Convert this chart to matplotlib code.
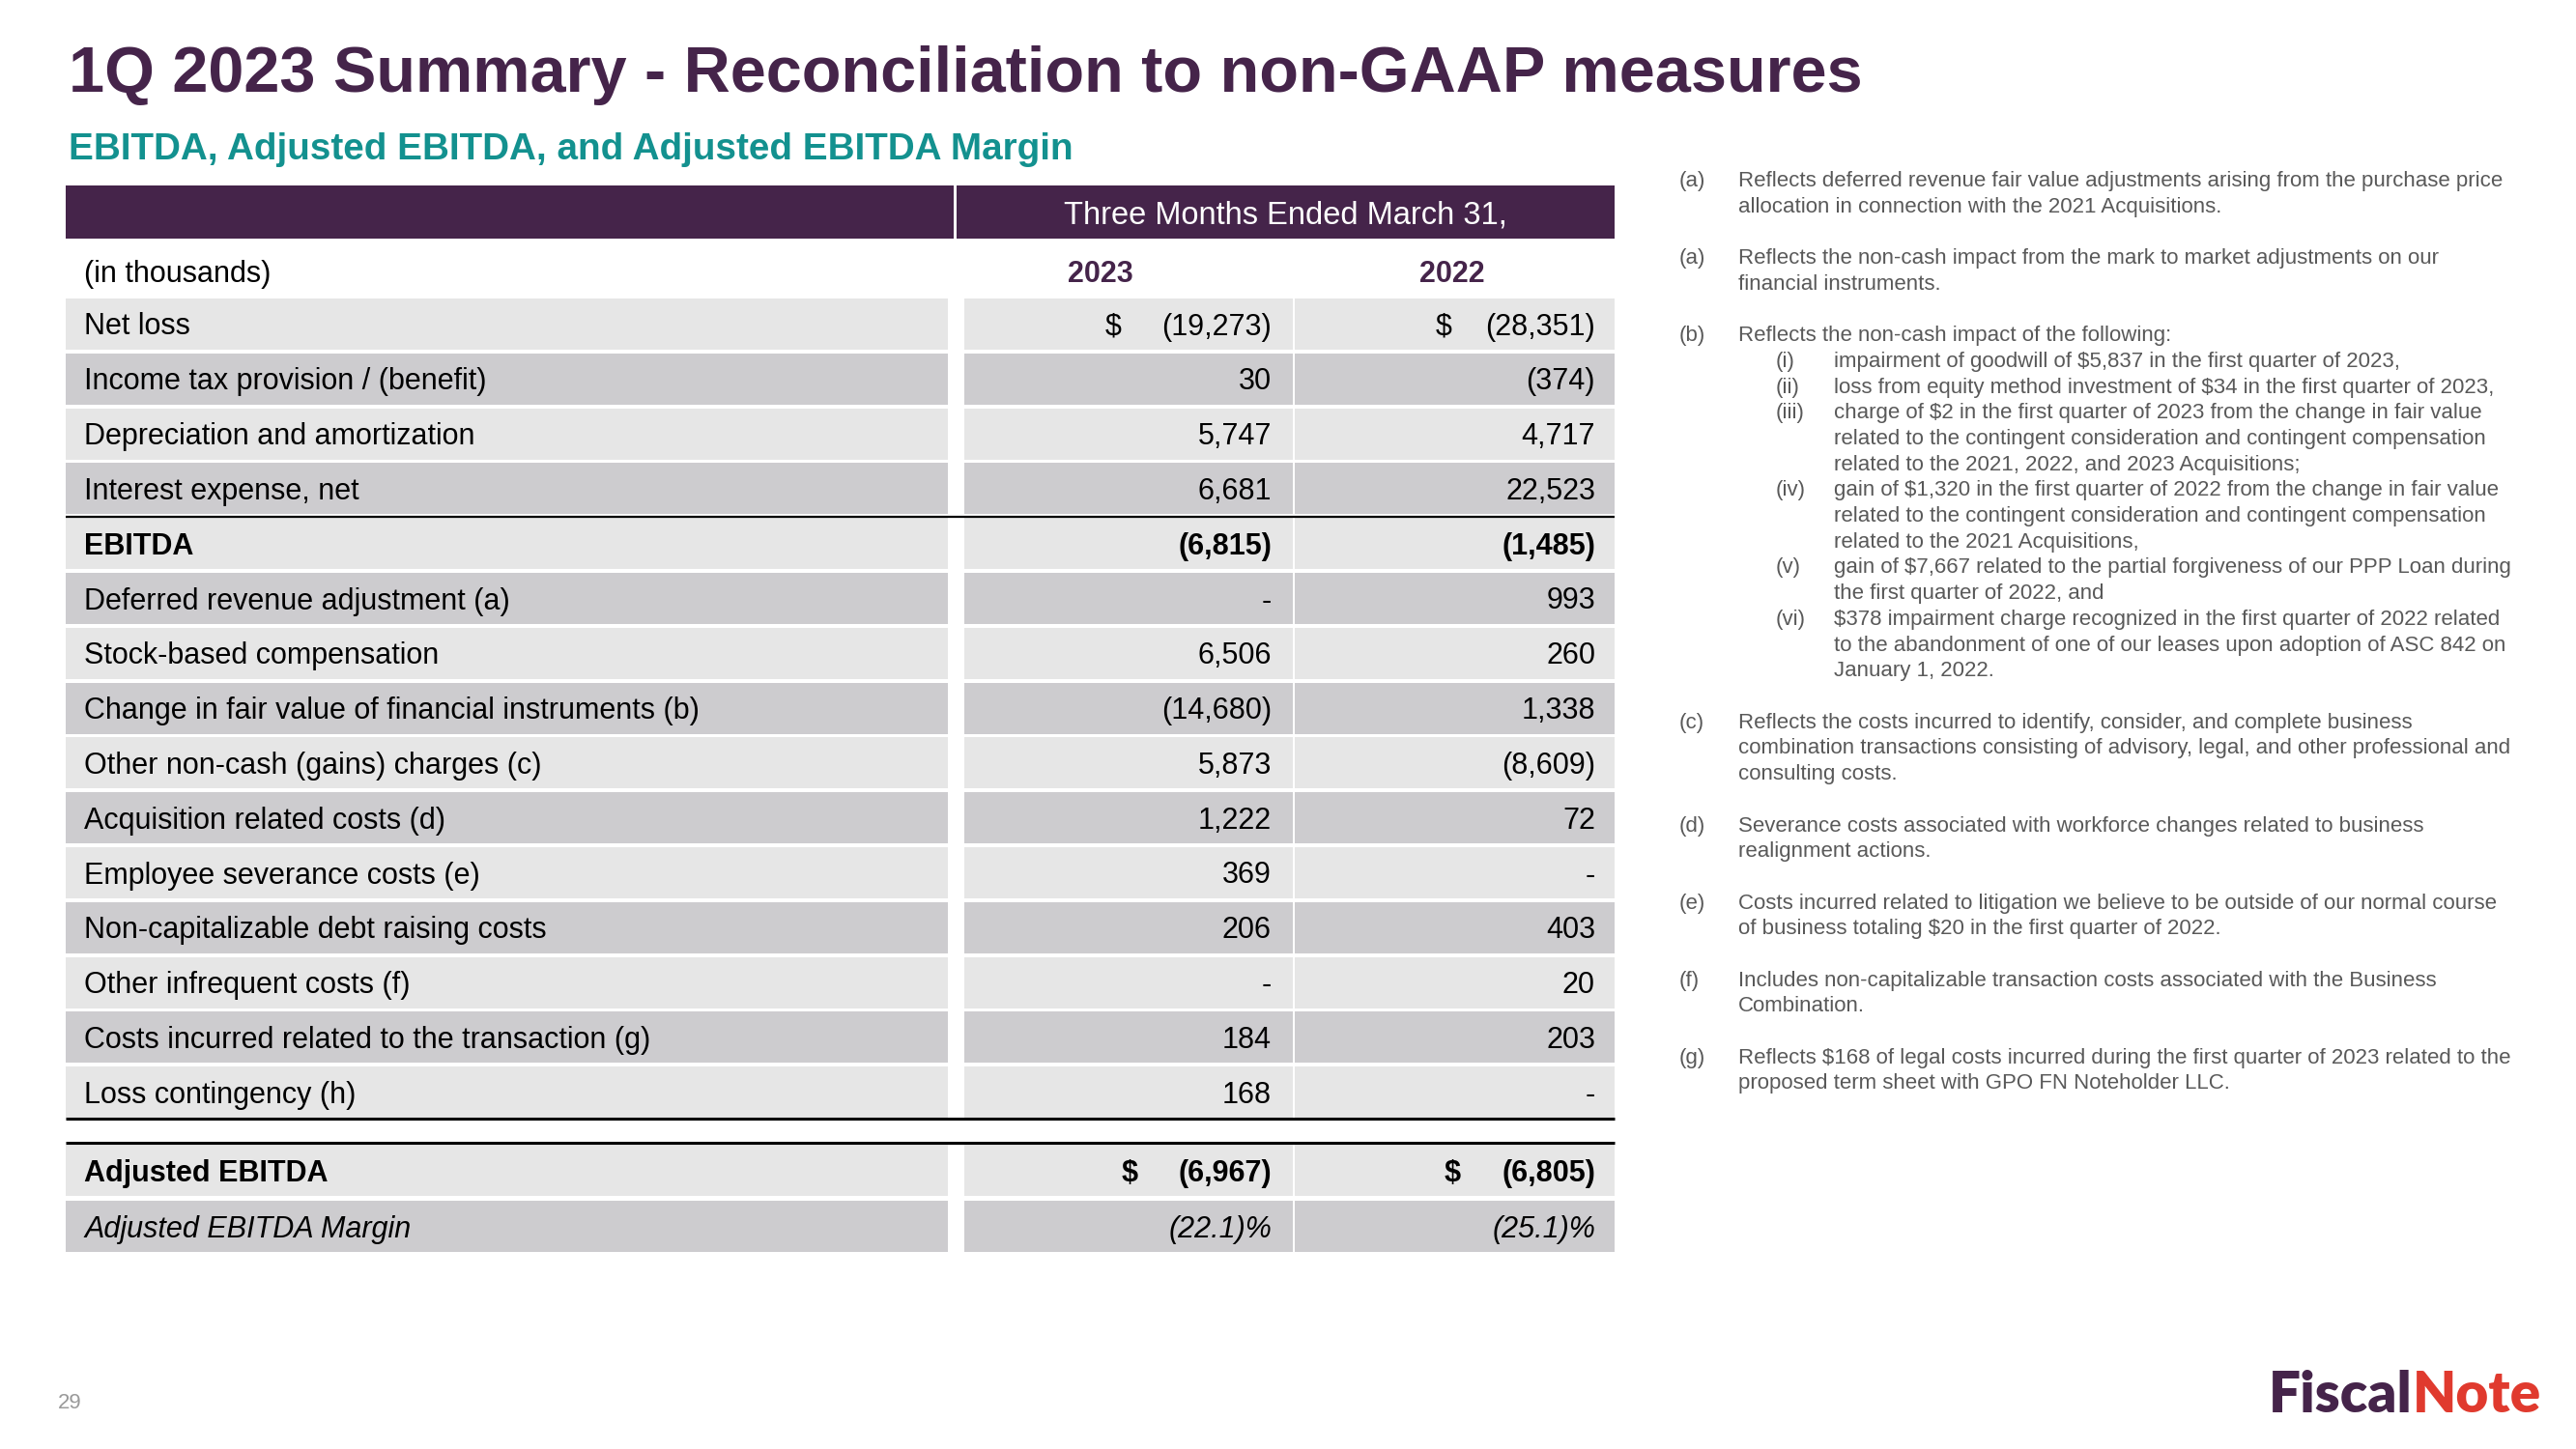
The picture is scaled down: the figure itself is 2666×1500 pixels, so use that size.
import matplotlib
matplotlib.use("Agg")
import matplotlib.pyplot as plt
from matplotlib.patches import Rectangle

W, H = 2666, 1500
PURPLE = "#45244a"
TEAL = "#13918f"
LIGHT = "#e6e6e6"
DARK = "#cdcccf"
NOTE_GREY = "#595959"
RED = "#e03a2e"
FONT = "Liberation Sans"

title = "1Q 2023 Summary - Reconciliation to non-GAAP measures"
subtitle = "EBITDA, Adjusted EBITDA, and Adjusted EBITDA Margin"
period = "Three Months Ended March 31,"
years = ["2023", "2022"]

labels = ["Net loss", "Income tax provision / (benefit)", "Depreciation and amortization",
          "Interest expense, net", "EBITDA", "Deferred revenue adjustment (a)",
          "Stock-based compensation", "Change in fair value of financial instruments (b)",
          "Other non-cash (gains) charges (c)", "Acquisition related costs (d)",
          "Employee severance costs (e)", "Non-capitalizable debt raising costs",
          "Other infrequent costs (f)", "Costs incurred related to the transaction (g)",
          "Loss contingency (h)"]
q1_2023 = [-19273, 30, 5747, 6681, -6815, None, 6506, -14680, 5873, 1222, 369, 206, None, 184, 168]
q1_2022 = [-28351, -374, 4717, 22523, -1485, 993, 260, 1338, -8609, 72, None, 403, 20, 203, None]
adj_ebitda = [-6967, -6805]
adj_margin = [-22.1, -25.1]

notes = [
    ("(a)", 0, ["Reflects deferred revenue fair value adjustments arising from the purchase price",
                "allocation in connection with the 2021 Acquisitions."]),
    ("(a)", 0, ["Reflects the non-cash impact from the mark to market adjustments on our",
                "financial instruments."]),
    ("(b)", 0, ["Reflects the non-cash impact of the following:"]),
    ("(i)", 1, ["impairment of goodwill of $5,837 in the first quarter of 2023,"]),
    ("(ii)", 1, ["loss from equity method investment of $34 in the first quarter of 2023,"]),
    ("(iii)", 1, ["charge of $2 in the first quarter of 2023 from the change in fair value",
                  "related to the contingent consideration and contingent compensation",
                  "related to the 2021, 2022, and 2023 Acquisitions;"]),
    ("(iv)", 1, ["gain of $1,320 in the first quarter of 2022 from the change in fair value",
                 "related to the contingent consideration and contingent compensation",
                 "related to the 2021 Acquisitions,"]),
    ("(v)", 1, ["gain of $7,667 related to the partial forgiveness of our PPP Loan during",
                "the first quarter of 2022, and"]),
    ("(vi)", 1, ["$378 impairment charge recognized in the first quarter of 2022 related",
                 "to the abandonment of one of our leases upon adoption of ASC 842 on",
                 "January 1, 2022."]),
    ("(c)", 0, ["Reflects the costs incurred to identify, consider, and complete business",
                "combination transactions consisting of advisory, legal, and other professional and",
                "consulting costs."]),
    ("(d)", 0, ["Severance costs associated with workforce changes related to business",
                "realignment actions."]),
    ("(e)", 0, ["Costs incurred related to litigation we believe to be outside of our normal course",
                "of business totaling $20 in the first quarter of 2022."]),
    ("(f)", 0, ["Includes non-capitalizable transaction costs associated with the Business",
                "Combination."]),
    ("(g)", 0, ["Reflects $168 of legal costs incurred during the first quarter of 2023 related to the",
                "proposed term sheet with GPO FN Noteholder LLC."]),
]


def fmt(v):
    if v is None:
        return "-"
    s = f"{abs(v):,}"
    return f"({s})" if v < 0 else s


def txt(x, y, s, size, **kw):
    kw.setdefault("family", FONT)
    kw.setdefault("color", "black")
    kw.setdefault("va", "baseline")
    ax.text(x, y, s, fontsize=size, parse_math=False, **kw)


fig = plt.figure(figsize=(W / 100, H / 100), dpi=100)
ax = fig.add_axes([0, 0, 1, 1])
ax.set_xlim(0, W)
ax.set_ylim(H, 0)
ax.axis("off")

# headings
txt(71, 95, title, 48, weight="bold", color=PURPLE)
txt(71, 165, subtitle, 27.8, weight="bold", color=TEAL)

# table geometry
x_lab0, x_lab1 = 68, 981
x_c1a, x_c1b = 998, 1338
x_c2a, x_c2b = 1340, 1671
val_right = [1316, 1651]
row_top, pitch, row_h = 309, 56.8, 53
fsz = 22

ax.add_patch(Rectangle((x_lab0, 192), 987 - x_lab0, 55, color=PURPLE, lw=0))
ax.add_patch(Rectangle((990, 192), x_c2b - 990, 55, color=PURPLE, lw=0))
txt(1330, 231, period, 23.5, color="white", ha="center")

txt(87, 292, "(in thousands)", fsz)
for xc, yr in zip([1139, 1503], years):
    txt(xc, 292, yr, fsz, weight="bold", color=PURPLE, ha="center")


def row(top, fill, label, vals, weight="normal", style="normal", dollars=None):
    for a, b in [(x_lab0, x_lab1), (x_c1a, x_c1b), (x_c2a, x_c2b)]:
        ax.add_patch(Rectangle((a, top), b - a, row_h, color=fill, lw=0))
    base = top + row_h / 2 + 11
    txt(87, base, label, fsz, weight=weight, style=style)
    for xr, v in zip(val_right, vals):
        txt(xr, base, v, fsz, weight=weight, style=style, ha="right")
    if dollars:
        for xd in dollars:
            txt(xd, base, "$", fsz, weight=weight, style=style)


for i, lab in enumerate(labels):
    top = row_top + i * pitch
    fill = LIGHT if i % 2 == 0 else DARK
    w = "bold" if lab == "EBITDA" else "normal"
    row(top, fill, lab, [fmt(q1_2023[i]), fmt(q1_2022[i])], weight=w,
        dollars=[1144, 1486] if i == 0 else None)

ax.plot([x_lab0, x_c2b], [535, 535], color="black", lw=1.6, solid_capstyle="butt")
ax.plot([x_lab0, x_c2b], [1158, 1158], color="black", lw=2.2, solid_capstyle="butt")
ax.plot([x_lab0, x_c2b], [1183, 1183], color="black", lw=2.2, solid_capstyle="butt")

row(1185, LIGHT, "Adjusted EBITDA", [fmt(v) for v in adj_ebitda], weight="bold",
    dollars=[1161, 1495])
row(1243, DARK, "Adjusted EBITDA Margin", [f"({abs(v):.1f})%" for v in adj_margin],
    style="italic")

# footnotes
idx = 0
for k, (mark, lvl, lines) in enumerate(notes):
    if lvl == 0 and k > 0:
        idx += 1
    mx, tx = (1738, 1799) if lvl == 0 else (1838, 1898)
    for j, line in enumerate(lines):
        base = 185 + idx * 26.7 + 8
        if j == 0:
            txt(mx, base, mark, 16, color=NOTE_GREY)
        txt(tx, base, line, 16, color=NOTE_GREY)
        idx += 1

# page number and logo
txt(60, 1458, "29", 16, color="#9a9a9a")
txt(2497, 1462, "Fiscal", 42, family="Lato", weight="heavy", color=PURPLE, ha="right")
txt(2497, 1462, "Note", 42, family="Lato", weight="heavy", color=RED, ha="left")

fig.savefig("out.png", dpi=100)
